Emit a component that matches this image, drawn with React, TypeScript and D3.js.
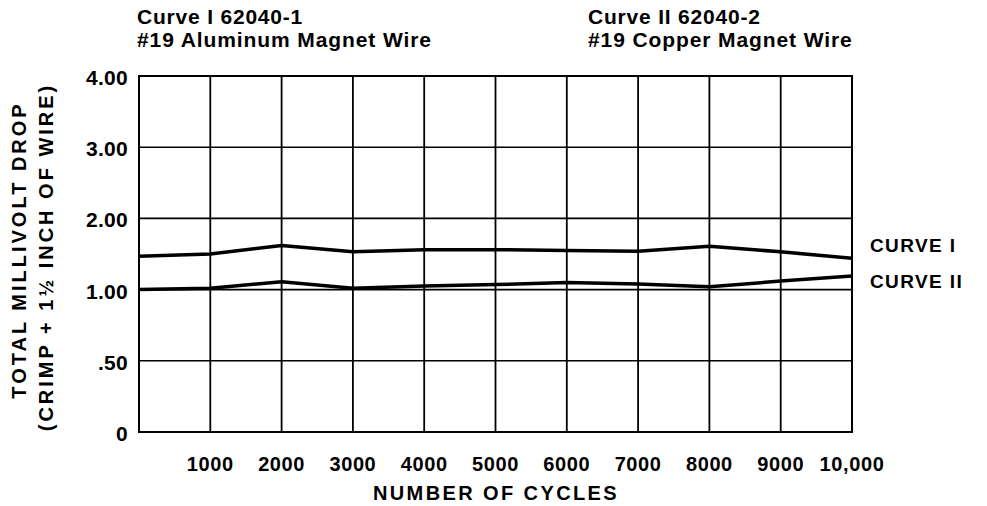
import React from "react";
import * as d3 from "d3";

const cycles = [0, 1000, 2000, 3000, 4000, 5000, 6000, 7000, 8000, 9000, 10000];
const curveI = [1.47, 1.5, 1.62, 1.53, 1.56, 1.56, 1.55, 1.54, 1.61, 1.53, 1.44];
const curveII = [1.0, 1.02, 1.11, 1.02, 1.05, 1.07, 1.1, 1.08, 1.04, 1.12, 1.19];
const yTicks = [0, 0.5, 1, 2, 3, 4];
const yTickLabels = ["0", ".50", "1.00", "2.00", "3.00", "4.00"];
const xTicks = [1000, 2000, 3000, 4000, 5000, 6000, 7000, 8000, 9000, 10000];
const xTickLabels = ["1000", "2000", "3000", "4000", "5000", "6000", "7000", "8000", "9000", "10,000"];

const W = 987;
const H = 506;
const left = 139;
const right = 852;
const top = 76;
const bottom = 432;

export default function App() {
  const x = d3.scaleLinear().domain([0, 10000]).range([left, right]);
  const step = (bottom - top) / (yTicks.length - 1);
  const y = d3
    .scaleLinear()
    .domain(yTicks)
    .range(yTicks.map((_, i) => bottom - i * step));
  const line = d3
    .line<number>()
    .x((_, i) => x(cycles[i]))
    .y((d) => y(d));
  const font = "'Liberation Sans', Arial, Helvetica, sans-serif";
  return (
    <svg
      width={W}
      height={H}
      style={{ position: "absolute", left: 0, top: 0, background: "#fff" }}
      fontFamily={font}
      fontWeight="bold"
    >
      <rect width={W} height={H} fill="#fff" />
      {/* titles */}
      <text x={137} y={24} fontSize={21} letterSpacing={0.8}>Curve I 62040-1</text>
      <text x={137} y={47} fontSize={21} letterSpacing={0.9}>#19 Aluminum Magnet Wire</text>
      <text x={588} y={24} fontSize={21} letterSpacing={0.8}>Curve II 62040-2</text>
      <text x={588} y={47} fontSize={21} letterSpacing={0.9}>#19 Copper Magnet Wire</text>

      {/* gridlines */}
      {cycles.map((c) => (
        <line key={"v" + c} x1={x(c)} x2={x(c)} y1={top} y2={bottom} stroke="#000" strokeWidth={1.8} />
      ))}
      {yTicks.map((t) => (
        <line key={"h" + t} x1={left} x2={right} y1={y(t)} y2={y(t)} stroke="#000" strokeWidth={1.6} />
      ))}
      <rect x={left} y={top} width={right - left} height={bottom - top} fill="none" stroke="#000" strokeWidth={2} />

      {/* curves */}
      <path d={line(curveI) || ""} fill="none" stroke="#000" strokeWidth={3.5} strokeLinejoin="round" />
      <path d={line(curveII) || ""} fill="none" stroke="#000" strokeWidth={3.5} strokeLinejoin="round" />

      {/* y tick labels */}
      {yTicks.map((t, i) => (
        <text key={"yl" + t} x={128} y={y(t) + 9} fontSize={21} textAnchor="end" letterSpacing={0.3}>
          {yTickLabels[i]}
        </text>
      ))}
      {/* x tick labels */}
      {xTicks.map((t, i) => (
        <text key={"xl" + t} x={x(t)} y={471} fontSize={20} textAnchor="middle" letterSpacing={0.6}>
          {xTickLabels[i]}
        </text>
      ))}
      <text x={496} y={500} fontSize={20} textAnchor="middle" letterSpacing={2.4}>NUMBER OF CYCLES</text>

      {/* y axis title */}
      <text transform="translate(26,250) rotate(-90)" fontSize={20} textAnchor="middle" letterSpacing={3}>
        TOTAL MILLIVOLT DROP
      </text>
      <text transform="translate(53,257) rotate(-90)" fontSize={20} textAnchor="middle" letterSpacing={3}>
        (CRIMP + 1½ INCH OF WIRE)
      </text>

      {/* curve labels */}
      <text x={870} y={252} fontSize={19} letterSpacing={1.4}>CURVE I</text>
      <text x={870} y={288} fontSize={19} letterSpacing={1.4}>CURVE II</text>
    </svg>
  );
}
